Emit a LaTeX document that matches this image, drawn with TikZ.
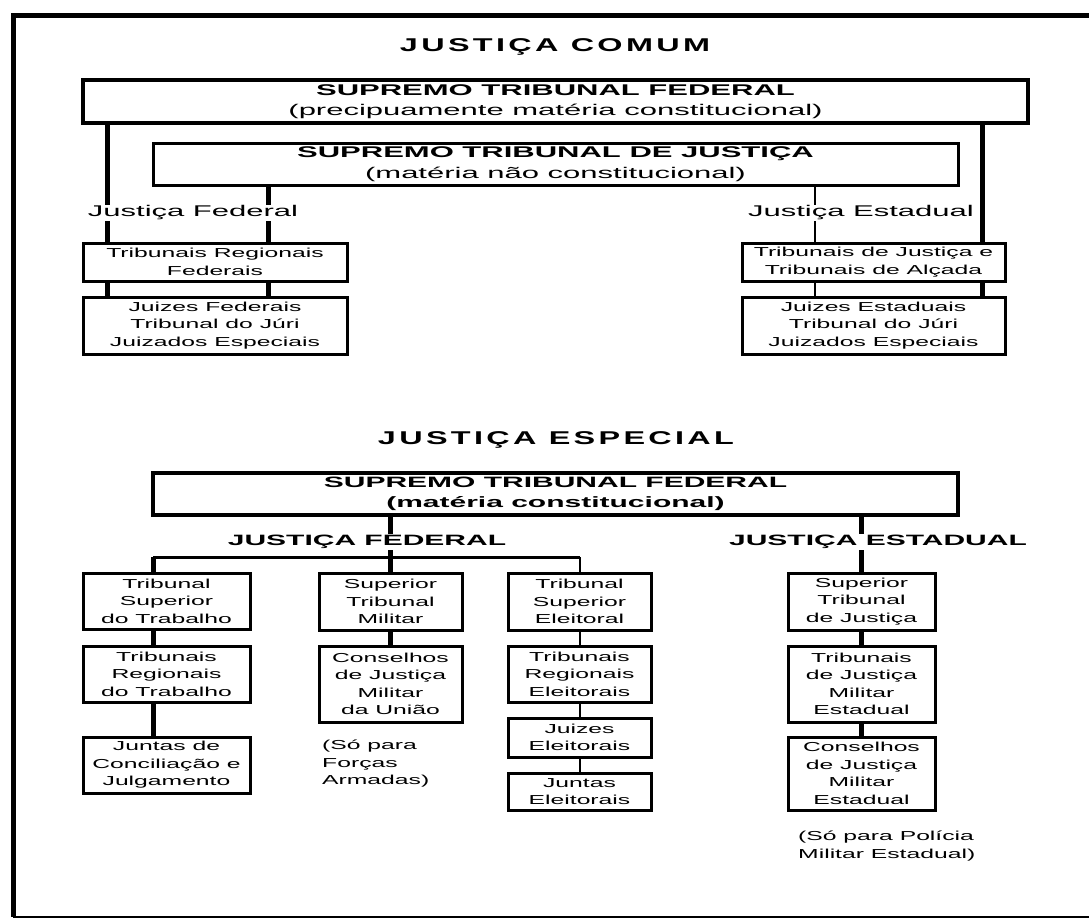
\documentclass[tikz,border=0pt]{standalone}
\usepackage{fontspec}
\setmainfont{Liberation Sans}[FakeStretch=1.9]
\newfontfamily\largofont{Liberation Sans}[FakeStretch=2.0]
\newfontfamily\ttlfont{Liberation Sans}[FakeStretch=1.75,LetterSpace=18]
\usetikzlibrary{backgrounds}

\tikzset{
  caixa/.style={draw, line width=3pt, fill=white, inner sep=0pt, align=center,
    font=\fontsize{13}{17.5}\selectfont},
  caixamaior/.style={caixa, line width=4pt, font=\largofont\fontsize{15.5}{20.5}\selectfont},
  rotulo/.style={fill=white, inner sep=1pt, font=\largofont\fontsize{15.5}{20}\selectfont},
  rotulonegrito/.style={rotulo, font=\largofont\bfseries\fontsize{15}{20}\selectfont},
  titulo/.style={font=\ttlfont\bfseries\fontsize{18.5}{22}\selectfont},
  nota/.style={anchor=west, align=left, inner sep=0pt, font=\fontsize{13}{17.5}\selectfont},
  grosso/.style={line width=5pt},
  medio/.style={line width=3pt},
  fino/.style={line width=2pt},
}

\begin{document}
\begin{tikzpicture}[x=1pt, y=-1pt]
  \useasboundingbox (0,0) rectangle (1089,919);
  \draw[grosso] (1089,15) -- (13,15) -- (13,917);
  \draw[fino] (13,917) -- (1089,917);

  \node[titulo] (tcomum) at (555,47) {JUSTIÇA COMUM};
  \node[caixamaior, minimum width=945, minimum height=43] (stfa) at (555.5,101.5)
    {\textbf{SUPREMO TRIBUNAL FEDERAL}\\(precipuamente matéria constitucional)};
  \node[caixamaior, line width=3pt, minimum width=805, minimum height=42] (stj) at (555.5,164)
    {\textbf{SUPREMO TRIBUNAL DE JUSTIÇA}\\(matéria não constitucional)};
  \node[rotulo] (jfed) at (193,213) {Justiça Federal};
  \node[rotulo] (jest) at (861,213) {Justiça Estadual};
  \node[caixa, minimum width=264, minimum height=38] (trf) at (215,262)
    {Tribunais Regionais\\Federais};
  \node[caixa, minimum width=264, minimum height=57] (jzf) at (215,325.5)
    {Juizes Federais\\Tribunal do Júri\\Juizados Especiais};
  \node[caixa, minimum width=263, minimum height=38] (tja) at (873.5,262)
    {Tribunais de Justiça e\\Tribunais de Alçada};
  \node[caixa, minimum width=263, minimum height=57] (jze) at (873.5,325.5)
    {Juizes Estaduais\\Tribunal do Júri\\Juizados Especiais};
  \coordinate (fa) at (107,0);
  \coordinate (fb) at (268,0);
  \coordinate (ea) at (815,0);
  \coordinate (eb) at (982,0);

  \node[titulo] (tespecial) at (556,440) {JUSTIÇA ESPECIAL};
  \node[caixamaior, line width=3.5pt, font=\largofont\bfseries\fontsize{15}{20.5}\selectfont,
    minimum width=805, minimum height=42] (stfb) at (555.5,494)
    {SUPREMO TRIBUNAL FEDERAL\\(matéria constitucional)};
  \node[rotulonegrito] (jfb) at (367,542) {JUSTIÇA FEDERAL};
  \node[rotulonegrito] (jeb) at (878,542) {JUSTIÇA ESTADUAL};
  \coordinate (barra) at (153,557);

  \node[caixa, minimum width=167, minimum height=56] (tst) at (166.5,601)
    {Tribunal\\Superior\\do Trabalho};
  \node[caixa, minimum width=167, minimum height=56] (trt) at (166.5,674)
    {Tribunais\\Regionais\\do Trabalho};
  \node[caixa, minimum width=167, minimum height=56] (jcj) at (166.5,765)
    {Juntas de\\Conciliação e\\Julgamento};

  \node[caixa, minimum width=143, minimum height=57] (stm) at (390.5,601.5)
    {Superior\\Tribunal\\Militar};
  \node[caixa, minimum width=143, minimum height=76] (cjmu) at (390.5,684)
    {Conselhos\\de Justiça\\Militar\\da União};
  \node[nota] (nfa) at (322,764) {(Só para\\Forças\\Armadas)};

  \node[caixa, minimum width=143, minimum height=57] (tse) at (579.5,601.5)
    {Tribunal\\Superior\\Eleitoral};
  \node[caixa, minimum width=143, minimum height=56] (tre) at (579.5,674)
    {Tribunais\\Regionais\\Eleitorais};
  \node[caixa, minimum width=143, minimum height=39] (jel) at (579.5,737.5)
    {Juizes\\Eleitorais};
  \node[caixa, minimum width=143, minimum height=37] (jue) at (579.5,791.5)
    {Juntas\\Eleitorais};

  \node[caixa, minimum width=147, minimum height=57] (tjs) at (861.5,601.5)
    {Superior\\Tribunal\\de Justiça};
  \node[caixa, minimum width=147, minimum height=76] (tjme) at (861.5,684)
    {Tribunais\\de Justiça\\Militar\\Estadual};
  \node[caixa, minimum width=147, minimum height=73] (cjme) at (861.5,773.5)
    {Conselhos\\de Justiça\\Militar\\Estadual};
  \node[nota] (npm) at (798,846) {(Só para Polícia\\Militar Estadual)};

  \begin{scope}[on background layer]
    \draw[grosso] (stfa.south -| fa) -- (jzf.north -| fa);
    \draw[grosso] (stj.south -| fb) -- (jzf.north -| fb);
    \draw[fino] (stj.south -| ea) -- (jze.north -| ea);
    \draw[grosso] (stfa.south -| eb) -- (jze.north -| eb);

    \draw[grosso] (stfb.south -| stm.north) -- (stm.north);
    \draw[grosso] (stfb.south -| tjs.north) -- (tjs.north);
    \draw[medio] (barra) -- (barra -| tse.north);
    \draw[grosso] (barra) -- (tst.north -| barra);
    \draw[fino] (barra -| tse.north) -- (tse.north);

    \draw[grosso] (tst.south -| barra) -- (trt.north -| barra);
    \draw[grosso] (trt.south -| barra) -- (jcj.north -| barra);
    \draw[grosso] (stm.south) -- (cjmu.north);
    \draw[fino] (tse.south) -- (tre.north);
    \draw[fino] (tre.south) -- (jel.north);
    \draw[fino] (jel.south) -- (jue.north);
    \draw[grosso] (tjs.south) -- (tjme.north);
    \draw[grosso] (tjme.south) -- (cjme.north);
  \end{scope}
\end{tikzpicture}
\end{document}
